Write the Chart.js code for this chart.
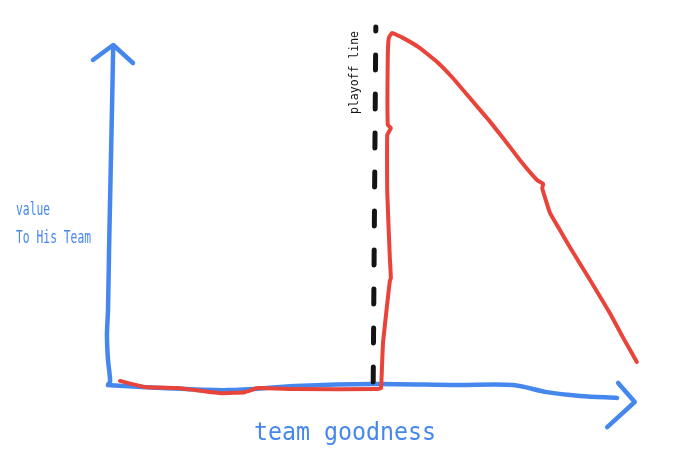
<!DOCTYPE html>
<html>
<head>
<meta charset="utf-8">
<script src="https://cdn.jsdelivr.net/npm/chart.js@4"></script>
<style>
  html, body { margin: 0; padding: 0; background: #ffffff; }
  #wrap { width: 680px; height: 461px; position: relative; }
</style>
</head>
<body>
<div id="wrap"><canvas id="c"></canvas></div>
<script>
// Sketch data: x = "team goodness" (0..100), y = "value to his team" (0..100)
const valueCurveX = [2.3, 7.1, 13.5, 16.7, 21.9, 26.3, 28.8, 36.0, 51.9, 52.5,
  52.7, 52.9, 53.6, 54.2, 54.4, 54.2, 53.7, 53.7, 54.4, 53.8, 53.8, 54.0, 54.6,
  56.7, 60.0, 63.3, 66.3, 69.6, 72.9, 76.0, 79.2, 82.5, 83.7, 83.5, 85.0, 86.9, 88.8, 92.7, 96.5, 99.0, 101.7];
const valueCurveY = [1.2, -0.6, -0.9, -1.5, -2.4, -2.1, -0.9, -1.2, -1.2, -0.9,
  5.9, 12.6, 22.6, 30.6, 31.5, 37.4, 56.8, 73.5, 75.6, 76.5, 96.2, 102.1, 103.5,
  102.1, 99.1, 95.0, 90.3, 84.4, 78.5, 72.6, 66.2, 60.3, 59.1, 57.9, 50.6, 45.6, 40.6, 30.9, 21.2, 14.1, 6.8];

const playoffX = [51.0, 51.5];
const playoffY = [0.9, 105.3];

const yAxisX = [0, 0.4, 0, -0.2, 0, 0.2, 0.4, 0.6, 0.8, 1.0];
const yAxisY = [0, 1.2, 7.4, 14.7, 22.1, 39.7, 54.4, 69.1, 83.8, 99.7];
const yArrowX = [-2.9, 1.0, 4.8];
const yArrowY = [95.6, 100.0, 94.7];

const xAxisX = [0, 10.4, 23.1, 36.0, 51.0, 67.1, 77.9, 84.4, 90.8, 97.9];
const xAxisY = [0, -0.9, -1.5, -0.3, 0.3, 0, 0, -2.1, -3.2, -3.8];
const xArrowX = [98.1, 101.3, 96.0];
const xArrowY = [0.6, -5.0, -12.4];

const xTitle = 'team goodness';
const yTitle = ['value', 'To His Team'];
const playoffLabel = 'playoff line';

const BLUE = '#4687EE';
const RED = '#E8443A';
const BLACK = '#141414';

function pts(xs, ys) { return xs.map((x, i) => ({ x: x, y: ys[i] })); }

function stroke(xs, ys, color, width, extra) {
  return Object.assign({
    data: pts(xs, ys),
    showLine: true,
    borderColor: color,
    backgroundColor: color,
    borderWidth: width,
    pointRadius: 0,
    pointHoverRadius: 0,
    borderCapStyle: 'round',
    borderJoinStyle: 'round',
    tension: 0.3,
    fill: false
  }, extra || {});
}

const labelsPlugin = {
  id: 'sketchLabels',
  afterDatasetsDraw(chart) {
    const ctx = chart.ctx;
    ctx.save();
    ctx.fillStyle = BLUE;
    ctx.font = '24px "DejaVu Sans Mono"';
    ctx.textAlign = 'center';
    ctx.textBaseline = 'alphabetic';
    ctx.save();
    ctx.translate(345, 440);
    ctx.scale(0.97, 1);
    ctx.fillText(xTitle, 0, 0);
    ctx.restore();
    ctx.font = '18px "DejaVu Sans Mono"';
    ctx.textAlign = 'left';
    ctx.save();
    ctx.translate(16, 215);
    ctx.scale(0.63, 1);
    ctx.fillText(yTitle[0], 0, 0);
    ctx.restore();
    ctx.save();
    ctx.translate(16, 243);
    ctx.scale(0.63, 1);
    ctx.fillText(yTitle[1], 0, 0);
    ctx.restore();
    ctx.fillStyle = BLACK;
    ctx.font = '11.5px "DejaVu Sans Mono"';
    ctx.textAlign = 'center';
    ctx.save();
    ctx.translate(358, 72.5);
    ctx.rotate(-Math.PI / 2);
    ctx.fillText(playoffLabel, 0, 0);
    ctx.restore();
    ctx.restore();
  }
};

new Chart(document.getElementById('c'), {
  type: 'scatter',
  data: {
    datasets: [
      stroke(valueCurveX, valueCurveY, RED, 4, { tension: 0.1 }),
      stroke(playoffX, playoffY, BLACK, 5, { borderDash: [15, 24], tension: 0 }),
      stroke(yAxisX, yAxisY, BLUE, 4.5),
      stroke(yArrowX, yArrowY, BLUE, 4.5, { tension: 0 }),
      stroke(xAxisX, xAxisY, BLUE, 4.5),
      stroke(xArrowX, xArrowY, BLUE, 4.5, { tension: 0 })
    ]
  },
  options: {
    responsive: true,
    maintainAspectRatio: false,
    animation: false,
    layout: { padding: 0 },
    plugins: { legend: { display: false }, tooltip: { enabled: false } },
    scales: {
      x: { type: 'linear', min: -20.77, max: 110, display: false },
      y: { type: 'linear', min: -22.35, max: 113.24, display: false }
    }
  },
  plugins: [labelsPlugin]
});
</script>
</body>
</html>
